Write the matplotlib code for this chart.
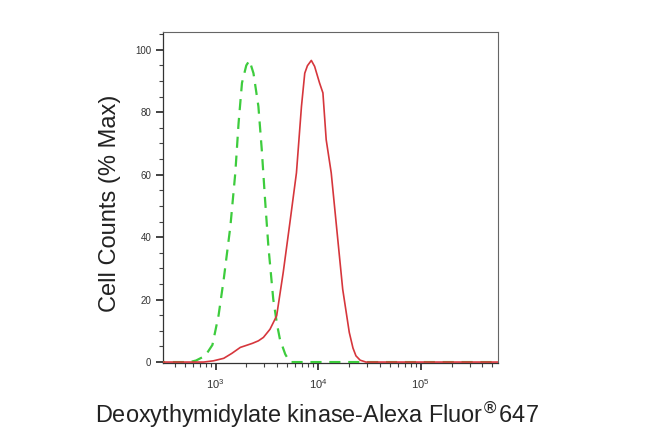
import numpy as np
import matplotlib
matplotlib.use("Agg")
import matplotlib.pyplot as plt
from matplotlib.ticker import LogLocator, MultipleLocator, FixedLocator

plt.rcParams['font.family'] = ['Liberation Sans', 'DejaVu Sans']

# isotype control (green dashed) - log10 intensity vs % max
ctrl_log = [2.40, 2.75, 2.81, 2.90, 2.97, 3.03, 3.08, 3.145, 3.193, 3.225, 3.258, 3.30, 3.331,
            3.37, 3.418, 3.451, 3.483, 3.515, 3.563, 3.60, 3.628, 3.68, 3.725, 4.5, 5.8]
ctrl_pct = [0, 0, 0.5, 2.0, 5.5, 15, 26.5, 43.5, 60.6, 76.6, 89.4, 95, 96.6,
            92.5, 81.9, 68, 52, 37.2, 20.1, 12, 7.3, 2.5, 0, 0, 0]

# sample (red solid)
samp_log = [2.40, 2.80, 2.884, 2.98, 3.08, 3.16, 3.242, 3.306, 3.36, 3.418, 3.467, 3.531, 3.596,
            3.66, 3.725, 3.789, 3.838, 3.87, 3.896, 3.934, 3.966, 4.014, 4.047,
            4.079, 4.128, 4.176, 4.24, 4.304, 4.34, 4.369, 4.41, 4.466, 5.8]
samp_pct = [0, 0, 0, 0.4, 1.2, 2.8, 4.7, 5.4, 6.0, 6.8, 7.9, 10.5, 14.8,
            28.7, 44.6, 60.6, 81.9, 92.5, 94.9, 96.6, 94.7, 89.4, 86.2,
            71.2, 60.6, 44.6, 23.3, 9.5, 4.5, 2, 0.6, 0, 0]

x_label = r"Deoxythymidylate kinase-Alexa Fluor$^{\circledR}$647"
y_label = "Cell Counts (% Max)"

fig = plt.figure(figsize=(6.5, 4.33), dpi=100)
ax = fig.add_axes([163/650, 1-363/433, (498-163)/650, (363-32)/433])

ax.plot(10**np.array(ctrl_log), ctrl_pct, color='#3dcc3d', lw=1.6,
        dashes=(5, 3.5), zorder=3)
ax.plot(10**np.array(samp_log), samp_pct, color='#d6363c', lw=1.2, zorder=4)

ax.set_xscale('log')
ax.set_xlim(10**2.488, 10**5.754)
ax.set_ylim(-0.3, 105.7)

ax.xaxis.set_major_locator(FixedLocator([1e3, 1e4, 1e5]))
ax.xaxis.set_minor_locator(LogLocator(base=10, subs=np.arange(2, 10), numticks=20))
ax.yaxis.set_minor_locator(MultipleLocator(5))
ax.set_yticks([0, 20, 40, 60, 80, 100])
ax.set_yticklabels(['0', '20', '40', '60', '80', '100'])

ax.tick_params(axis='both', which='major', direction='out', length=5, width=1.2,
               labelsize=7, color='#222222', labelcolor='#333333')
ax.tick_params(axis='x', which='major', labelsize=8, pad=5)
ax.tick_params(axis='both', which='minor', direction='out', length=3, width=0.8,
               color='#444444')

for s in ['top', 'right']:
    ax.spines[s].set_color('#666666')
    ax.spines[s].set_linewidth(0.8)
for s in ['left', 'bottom']:
    ax.spines[s].set_color('#333333')
    ax.spines[s].set_linewidth(0.9)

ax.set_ylabel(y_label, fontsize=17, color='#222222')
ax.set_xlabel(x_label, fontsize=16.9, color='#222222')
ax.yaxis.set_label_coords(-0.124, 0.483)
ax.xaxis.set_label_coords(0.461, -0.11)

fig.savefig('out.png', dpi=100)
